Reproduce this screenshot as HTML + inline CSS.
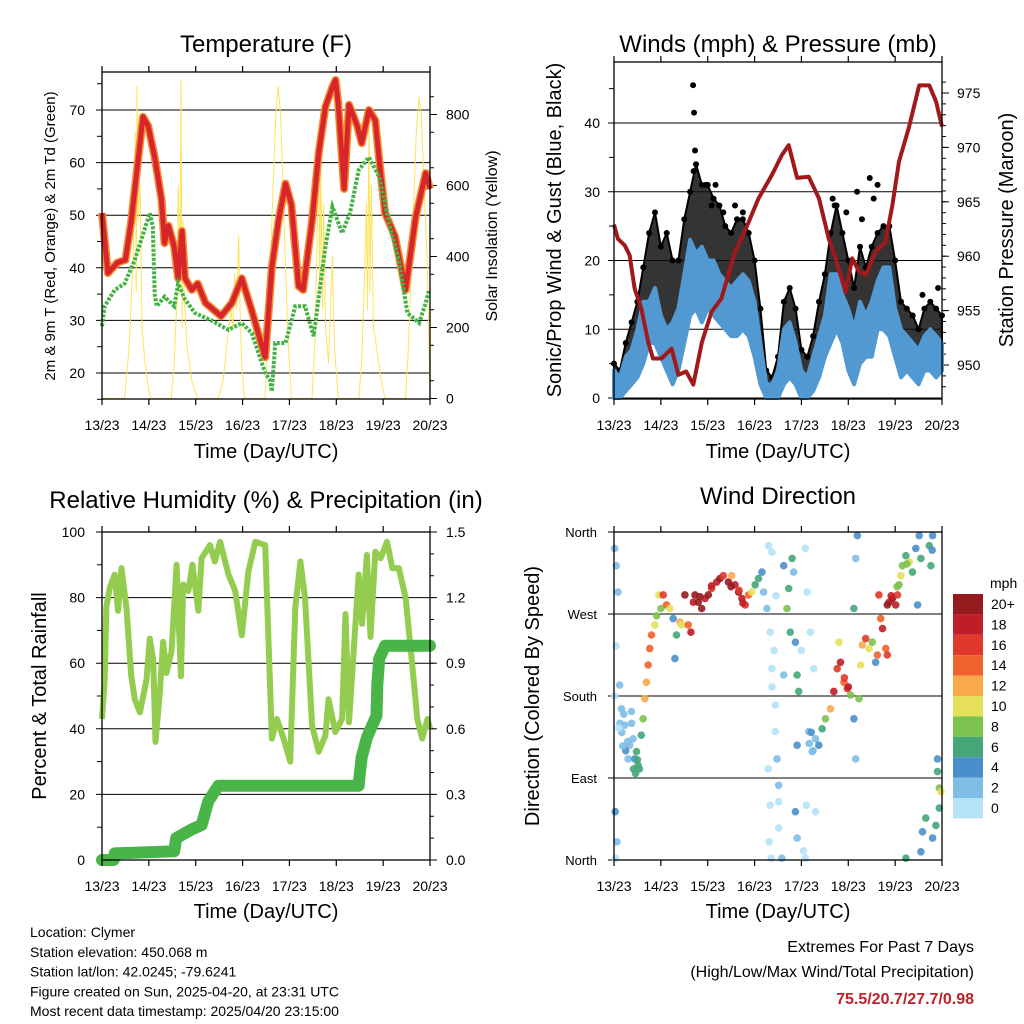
<!DOCTYPE html>
<html><head><meta charset="utf-8"><style>
body{margin:0;background:#fff}
svg{display:block;font-family:"Liberation Sans",sans-serif}
</style></head><body>
<svg id="chart" width="1024" height="1024" viewBox="0 0 1024 1024">
<g id="layer"></g>
</svg>
<script>
// ---------- Temperature panel data ----------
const tempHours=[0,3,8,12,15,18.5,21,23.6,27,30.5,32,34,37,39,41,42.5,46,49,53,61,66.5,71.6,77,82,83.6,87,90.4,94,97,100.7,103,107.6,111,114.4,118,119.6,121,124,126.5,130.7,133,136.7,140,142,145,150,155.5,160.7,165.8,168];
const tempValues=[50.4,39,41,41.5,49,60.5,68.7,67,61,53,44.7,48,44,38,47,38,35.8,37,33.3,30.8,33.3,38,31.5,25,23,40.2,49,56,52,36.5,35.8,49,61.8,70.6,74.4,75.7,71.3,55,71,67,63.7,70,68,60.5,50.4,46,35.8,49.7,58,55];
const dewHours=[0,1.4,6.5,11.6,16.8,24.5,26,27,28,32,37,39,42.5,47.6,56,64.8,71.6,76.7,83.6,86,87,88.7,94,99,104,108.4,114.4,118,123,127,131.5,136.7,142,147,152,156.4,162.4,165.8,167.5];
const dewValues=[28.9,32.7,35.8,37,41.5,50.4,47.8,35,32.7,34.5,32.7,37,34,31.4,30,28.2,29.5,27.6,20,18.7,16.5,25.7,25.7,32.7,32.7,27,44,51.6,46.6,50.4,58.6,61,57.3,48.5,41.5,31.4,29.5,33.3,35.8];
const solarHours=[0,11.5,14,16,17,17.5,18,18.5,19.5,20.5,22,24,25,35.5,37,38.5,39,40,40.5,41,41.5,42,43.5,46,49,59.5,62,64,66,67,68,69,70,70.5,71.5,73,83.5,85,87,89,90.2,91.5,93,95,97,107.5,109,110,111,111.5,112,113,113.5,114.5,116,118,119,121,131.5,133,134.5,135.5,136,136.7,137.2,138,139,140.5,143,145,155.5,157,159,161,162.3,163.5,165,166.5,168];
const solarValues=[0,0,150,400,750,300,880,500,600,200,100,20,0,0,100,300,600,400,900,200,500,300,150,50,0,0,50,150,250,200,350,250,460,300,100,0,0,150,500,800,880,800,550,200,0,0,150,400,700,300,650,250,550,200,100,400,150,0,0,100,350,550,250,780,300,600,200,150,50,0,0,150,450,750,850,800,600,400,0];
const tempTicks=[20,30,40,50,60,70];
const solarTicks=[0,200,400,600,800];
const dayLabels=["13/23","14/23","15/23","16/23","17/23","18/23","19/23","20/23"];
// ---------- Wind panel data ----------
const windHours=[0,3,6,9,12,15,18,21,24,27,30,33,36,39,42,45,48,51,54,57,60,63,66,69,72,75,78,81,84,87,90,93,96,99,102,105,108,111,114,117,120,123,126,129,132,135,138,141,144,147,150,153,156,159,162,165,168];
const windLow=[0,0,1,2,3,5,8,8,6,4,2,4,8,12,13,11,13,12,11,10,9,9,10,9,6,2,0,0,0,2,3,2,0,0,1,3,6,8,10,8,4,2,5,6,6,10,10,9,6,3,4,3,2,4,4,3,4];
const windHigh=[4,3,6,7,10,14,14,16,12,10,11,13,18,23,21,22,20,20,18,17,16,17,18,17,14,8,2,2,4,10,11,8,4,3,6,9,12,18,18,15,13,10,14,12,14,17,19,19,13,10,9,8,7,9,10,9,8];
const gustValues=[5,4,8,11,14,19,24,27,22,24,20,20,26,30,34,31,31,29,28,25,24,26,26,24,20,13,4,3,6,14,16,13,7,6,9,14,18,24,28,24,20,16,22,19,22,24,25,25,20,14,13,12,10,13,14,13,12];
const gustPeakHours=[40.5,41,41.5,40.8,47,52,50,56,62,66,112,113,119,124.5,127,131,133,135,158,166];
const gustPeakValues=[45.5,41.5,36,33,31,31,28,27,28,27,29,28,27,30,26,32,29,31,15,16];
const pressHours=[0,2,5.5,8,10.6,14,17.5,20,24.3,29.5,33,37,40.6,45,50,55,62,67,74,81,86,89.5,93.8,99.8,105,110,113.5,118.6,122,125.5,129,134,139,142.6,146,151,156.3,161.5,165,168];
const pressValues=[962.9,961.6,961,960.1,957,955.2,952.1,950.6,950.6,951.5,949.1,949.4,948.2,952.1,954.9,956.1,960.4,962.3,965.3,967.5,969.3,970.2,967.2,967.3,965.3,961.6,959.8,956.7,959.8,958.6,958.3,960.4,961.3,964.7,968.7,971.8,975.7,975.7,974.2,971.9];
const windTicks=[0,10,20,30,40];
const pressTicks=[950,955,960,965,970,975];
// ---------- RH / precip data ----------
const rhHours=[0,1.4,2.2,4,6.5,8.2,10,12.5,15,16.8,19.4,22.8,24.5,26.2,27.4,29.6,31.3,33,35.6,38.2,40.4,41.6,44.2,46.3,49.3,51,55.3,57.8,60.5,64.8,68.2,71.6,75,78.5,83.6,87,89.6,93,96.4,99,101.6,104,107.6,111,114.4,116,119.5,123,124.7,126.5,131.5,133.2,135.7,137.5,140,142.7,146,148.7,152,155.5,159,161.5,164,166.7,168];
const rhValues=[43,55,77,83,87,76,89,77,56,49,45,55,67.5,61,36,51,66.5,57,63.5,90,56,84,82,90,76,92,96,91,97,87,82,68.5,88,97,96,37,43,37,30,77,91,80,41,33,38,49,39,43,75,42,87,72,93,68,94,92,97,89,89,80,59,43,37,43,40];
const precipHours=[0,6,6.5,37,38,46,51,54.5,59.6,61,131.5,132,133,135.7,140.6,141,142,145,168];
const precipValues=[0,0,0.03,0.04,0.1,0.14,0.16,0.27,0.34,0.34,0.34,0.39,0.47,0.56,0.66,0.8,0.92,0.98,0.98];
const rhTicks=[0,20,40,60,80,100];
const precipTicks=["0.0","0.3","0.6","0.9","1.2","1.5"];
// ---------- Wind direction data ----------
const dirHours=[
0.3,1.2,2,2.9,3.8,5.5,7.2,0.6,1.5,0.8,
8,8.9,9.8,10.6,12.3,11.5,14,14.9,15.8,16.6,
17.5,18.3,19.2,20.9,21.8,23,24,25.2,26.9,28.6,
30.3,31.2,32,33.8,34.6,36.3,38,39.4,40.6,41.5,
43.2,44.9,46.6,48.3,50,52.6,54.3,56,58.6,60.3,
62,63.8,65.5,67.2,68.9,70.6,72.3,74,75.8,76.6,
78.3,79.2,80.9,80,80.9,82.6,82.6,83.5,84.3,84.3,
84.3,86,86.9,86.9,88.6,89.5,90.3,91.2,92,92.9,
93.8,94.6,93.8,92.9,93.8,98,98.9,100.6,102.3,98,
103.2,99.8,101.5,103.2,104.9,106.6,108.3,110.9,112.6,114.3,
115.2,116,117.8,119.5,121.2,122.9,123.8,122.9,123.8,124.6,
125.5,126.3,127.2,128.9,130.6,132.3,134,134.9,135.7,136.6,
137.5,139.2,140,140.9,142.6,144.3,145.2,146,146.9,147.7,
149.5,151.2,152.9,154.6,156.3,157.2,155.5,161.5,162.3,163.2,
165.7,165.7,166.6,166.6,164.9,163.2,159.7,158,157.2,149.5,
167.5,3,4,5,6,7,9,10,11,12,
13,4.5,2.5,1,0.3,50,44,60,66,64,
120,118,100,101,102,140,142,145,150,163,
79,80,81,82,79.5,80.5,83,97,96,98.5];
const dirValues=[
342,323,294,192,166,148,111,53,20,2,
126,163,133,111,104,119,137,155,177,195,
214,232,247,258,268,291,276,291,280,276,
265,221,247,261,258,291,258,250,283,291,
283,276,287,291,298,305,309,312,305,312,
302,294,287,280,291,294,302,309,316,294,
276,345,338,250,210,170,141,111,82,64,
35,2,203,323,276,298,250,331,316,239,
203,185,126,53,24,342,294,250,210,2,
53,141,119,133,126,144,155,166,185,210,
239,217,195,188,181,155,111,276,331,356,
177,214,236,243,232,239,217,225,291,265,
254,232,225,283,287,280,291,302,312,323,
334,327,316,342,356,331,280,345,323,356,
111,97,79,57,38,24,46,31,9,2,
75,150,140,160,120,130,150,100,95,110,
100,125,145,235,180,301,289,300,282,296,
190,200,128,140,120,280,290,300,325,340,
100,60,190,230,20,2,290,10,230,60];
const dirSpeeds=[
2,3,3,3,2,2,2,4,3,1,
3,2,3,5,7,7,6,8,12,12,
14,14,14,11,8,11,9,17,14,10,
4,4,6,12,10,20,14,18,18,20,
20,20,18,20,16,18,20,16,20,12,
18,20,18,16,14,10,7,6,4,3,
2,0,0,0,1,0,1,2,2,0,
0,2,2,4,8,6,6,6,3,4,
6,6,4,4,3,1,1,1,1,0,
0,2,2,2,4,7,8,12,18,16,
10,18,14,16,8,4,3,6,3,4,
8,10,12,16,10,8,4,14,16,14,
18,14,16,18,20,18,16,8,10,8,
6,10,6,4,4,6,4,6,6,4,
4,6,8,6,6,5,6,4,4,6,
10,2,3,2,4,3,2,6,6,6,
7,2,1,0,1,18,20,20,18,16,
18,16,2,4,2,20,18,8,8,4,
0,0,0,1,0,0,0,0,0,1];
const speedClasses=["20+","18","16","14","12","10","8","6","4","2","0"];
const speedColors=["#951a1e","#bf1e26","#e0382b","#f0632c","#f8a94b","#e6e05a","#7cc24e","#45a778","#4a8fcb","#80bde6","#b4e2f7"];
const dirTicks=["North","East","South","West","North"];

// ---------- helpers ----------
const NS="http://www.w3.org/2000/svg";
const layer=document.getElementById('layer');
function mk(tag,attrs,parent){const e=document.createElementNS(NS,tag);for(const k in attrs)e.setAttribute(k,attrs[k]);(parent||layer).appendChild(e);return e;}
function txt(s,x,y,size,anchor,parent,extra){const e=mk('text',Object.assign({x:x,y:y,'font-size':size,'text-anchor':anchor||'middle',fill:'#000'},extra||{}),parent);e.textContent=s;return e;}
function path(xs,ys,fx,fy){return xs.map((t,i)=>(i?'L':'M')+fx(t).toFixed(1)+' '+fy(ys[i]).toFixed(1)).join(' ');}

const xL=t=>102+t/168*328;
const xR=t=>614+t/168*328;
const yTemp=v=>373-(v-20)*5.26;
const ySolar=v=>398.5-v*0.355;
const yWind=v=>398-v*6.875;
const yPress=v=>365-(v-950)*10.88;
const yRH=v=>860-v*3.28;
const yPrecip=v=>860-v/1.5*328;
const yDir=d=>860-d/360*328;

function frame(name,x0,x1,y0,y1){
  const g=mk('g',{});
  
  mk('rect',{x:x0,y:y0,width:x1-x0,height:y1-y0,fill:'none',stroke:'#000','stroke-width':1.3},g);
  for(let d=0;d<8;d++){const x=x0+d*(x1-x0)/7;
    mk('line',{x1:x,x2:x,y1:y1,y2:y1+6,stroke:'#000','stroke-width':1.2},g);
    mk('line',{x1:x,x2:x,y1:y0,y2:y0-6,stroke:'#000','stroke-width':1.2},g);
  }
  return g;
}
function xLabels(name,fx,yl,yt){
  const g=mk('g',{});
  dayLabels.forEach((s,i)=>txt(s,fx(i*24),yl,14,'middle',g));
  txt('Time (Day/UTC)',fx(84),yt,20,'middle',g);
}
function hgrid(g,vals,fy,x0,x1){vals.forEach(v=>mk('line',{x1:x0-6,x2:x1,y1:fy(v),y2:fy(v),stroke:'#000','stroke-width':1},g));}

// ================= Panel 1 =================
(function(){
  const g=mk('g',{});
  txt('Temperature (F)',266,52,24,'middle',g);
  hgrid(g,tempTicks,yTemp,102,430);
  tempTicks.forEach(v=>txt(String(v),85,yTemp(v)+5,14,'end',g));
  solarTicks.forEach(v=>{mk('line',{x1:430,x2:437,y1:ySolar(v),y2:ySolar(v),stroke:'#000'},g);txt(String(v),446,ySolar(v)+5,14,'start',g);});
  for(let v=50;v<900;v+=100)mk('line',{x1:430,x2:434,y1:ySolar(v),y2:ySolar(v),stroke:'#000'},g);
  for(let v=15;v<80;v+=10)mk('line',{x1:102,x2:97,y1:yTemp(v),y2:yTemp(v),stroke:'#000'},g);
  const s=mk('path',{d:path(solarHours,solarValues,xL,ySolar),fill:'none',stroke:'#fde35a','stroke-width':1,'stroke-linejoin':'round'},g);
  
  const o=mk('path',{d:path(tempHours,tempValues,xL,yTemp),fill:'none',stroke:'#f58a2e','stroke-width':8,'stroke-linejoin':'round'},g);
  
  const r=mk('path',{d:path(tempHours,tempValues,xL,yTemp),fill:'none',stroke:'#d7262b','stroke-width':5,'stroke-linejoin':'round'},g);
  
  const d=mk('path',{d:path(dewHours,dewValues,xL,yTemp),fill:'none',stroke:'#45b245','stroke-width':4,'stroke-dasharray':'3 1.5'},g);
  
  frame('temperature',102,430,72,399);
  xLabels('temperature',xL,430,458);
  txt('2m & 9m T (Red, Orange) & 2m Td (Green)',0,0,15,'middle',g,{transform:'translate(55,236) rotate(-90)'});
  txt('Solar Insolation (Yellow)',0,0,16,'middle',g,{transform:'translate(497,236) rotate(-90)'});
})();

// ================= Panel 2 =================
(function(){
  const g=mk('g',{});
  txt('Winds (mph) & Pressure (mb)',778,52,24,'middle',g);
  hgrid(g,windTicks,yWind,614,942);
  windTicks.forEach(v=>txt(String(v),600,yWind(v)+5,14,'end',g));
  for(let v=5;v<46;v+=10)mk('line',{x1:614,x2:609,y1:yWind(v),y2:yWind(v),stroke:'#000'},g);
  pressTicks.forEach(v=>{mk('line',{x1:942,x2:949,y1:yPress(v),y2:yPress(v),stroke:'#000'},g);txt(String(v),957,yPress(v)+5,14,'start',g);});
  for(let v=948;v<977;v++)mk('line',{x1:942,x2:946,y1:yPress(v),y2:yPress(v),stroke:'#000'},g);
  const top=windHours.map((t,i)=>xR(t).toFixed(1)+','+yWind(gustValues[i]).toFixed(1));
  const mid=windHours.map((t,i)=>xR(t).toFixed(1)+','+yWind(windHigh[i]).toFixed(1)).reverse();
  const gb=mk('polygon',{points:top.concat(mid).join(' '),fill:'#111','fill-opacity':0.85,stroke:'#000','stroke-width':2,'stroke-linejoin':'round'},g);
  
  windHours.forEach((t,i)=>{const c=mk('circle',{cx:xR(t),cy:yWind(gustValues[i]),r:3,fill:'#000'},g);
    });
  gustPeakHours.forEach((t,i)=>{const c=mk('circle',{cx:xR(t),cy:yWind(gustPeakValues[i]),r:3,fill:'#000'},g);
    });
  const hi=windHours.map((t,i)=>xR(t).toFixed(1)+','+yWind(windHigh[i]).toFixed(1));
  const lo=windHours.map((t,i)=>xR(t).toFixed(1)+','+yWind(windLow[i]).toFixed(1)).reverse();
  const wb=mk('polygon',{points:hi.concat(lo).join(' '),fill:'#5399d1',stroke:'#5399d1','stroke-width':4,'stroke-linejoin':'round'},g);
  
  const p=mk('path',{d:path(pressHours,pressValues,xR,yPress),fill:'none',stroke:'#a01a1c','stroke-width':4,'stroke-linejoin':'round'},g);
  
  frame('winds',614,942,62,399);
  xLabels('winds',xR,430,458);
  txt('Sonic/Prop Wind & Gust (Blue, Black)',0,0,20,'middle',g,{transform:'translate(561,230) rotate(-90)'});
  txt('Station Pressure (Maroon)',0,0,20,'middle',g,{transform:'translate(1013,230) rotate(-90)'});
})();

// ================= Panel 3 =================
(function(){
  const g=mk('g',{});
  txt('Relative Humidity (%) & Precipitation (in)',266,508,24,'middle',g);
  hgrid(g,rhTicks.slice(1),yRH,102,430);
  rhTicks.forEach(v=>txt(String(v),85,yRH(v)+5,14,'end',g));
  for(let v=10;v<100;v+=20)mk('line',{x1:102,x2:97,y1:yRH(v),y2:yRH(v),stroke:'#000'},g);
  precipTicks.forEach((s,i)=>{const v=i*0.3;mk('line',{x1:430,x2:437,y1:yPrecip(v),y2:yPrecip(v),stroke:'#000'},g);txt(s,446,yPrecip(v)+5,14,'start',g);});
  for(let v=0.1;v<1.5;v+=0.1)mk('line',{x1:430,x2:434,y1:yPrecip(v),y2:yPrecip(v),stroke:'#000'},g);
  const rh=mk('path',{d:path(rhHours,rhValues,xL,yRH),fill:'none',stroke:'#93cc4f','stroke-width':6,'stroke-linejoin':'round'},g);
  
  const pr=mk('path',{d:path(precipHours,precipValues,xL,yPrecip),fill:'none',stroke:'#49b548','stroke-width':12,'stroke-linejoin':'round','stroke-linecap':'round'},g);
  
  frame('humidity',102,430,532,860);
  xLabels('humidity',xL,891,918);
  txt('Percent & Total Rainfall',0,0,20,'middle',g,{transform:'translate(46,696) rotate(-90)'});
})();

// ================= Panel 4 =================
(function(){
  const g=mk('g',{});
  txt('Wind Direction',778,504,24,'middle',g);
  const dv=[0,90,180,270,360];
  hgrid(g,dv,yDir,614,942);
  dirTicks.forEach((s,i)=>txt(s,597,yDir(dv[i])+5,13,'end',g));
  const idx=s=>s>=20?0:10-Math.floor(s/2);
  dirHours.forEach((t,i)=>{const c=mk('circle',{cx:xR(t).toFixed(1),cy:yDir(dirValues[i]).toFixed(1),r:3.8,fill:speedColors[idx(dirSpeeds[i])],'fill-opacity':0.9},g);
    });
  frame('wind-direction',614,942,532,860);
  xLabels('wind-direction',xR,891,918);
  txt('Direction (Colored By Speed)',0,0,20,'middle',g,{transform:'translate(539,696) rotate(-90)'});
  const lg=mk('g',{});
  txt('mph',990,588,14,'start',lg);
  speedClasses.forEach((s,i)=>{const r=mk('rect',{x:953,y:594+i*20.4,width:30,height:20.4,fill:speedColors[i]},lg);
    
    txt(s,991,609+i*20.4,14,'start',lg);});
})();

// ================= Footer =================
(function(){
  const g=mk('g',{});
  ["Location: Clymer","Station elevation: 450.068 m","Station lat/lon: 42.0245; -79.6241","Figure created on Sun, 2025-04-20, at 23:31 UTC","Most recent data timestamp: 2025/04/20 23:15:00"].forEach((s,i)=>txt(s,30,937+i*19.8,14,'start',g));
  const e=mk('g',{});
  txt('Extremes For Past 7 Days',974,952,16,'end',e);
  txt('(High/Low/Max Wind/Total Precipitation)',974,977,16,'end',e);
  txt('75.5/20.7/27.7/0.98',974,1004,16,'end',e,{fill:'#c0202a','font-weight':'bold'});
})();
</script>
</body></html>
